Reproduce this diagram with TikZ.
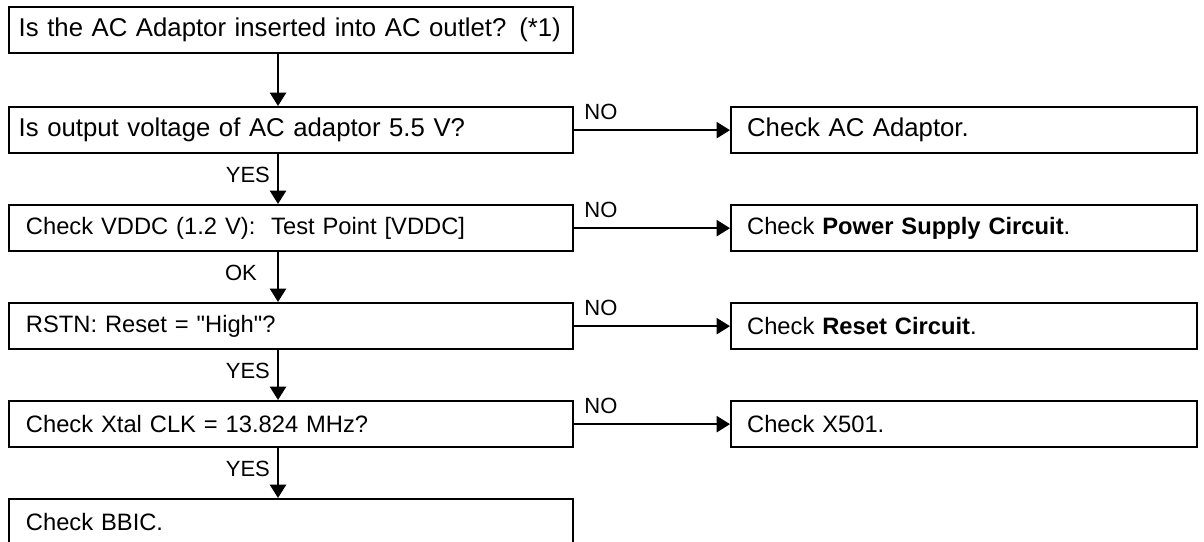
\documentclass[tikz,border=0pt]{standalone}
\usepackage{fontspec}
\setmainfont{Liberation Sans}[Ligatures=TeXOff]
\usetikzlibrary{arrows.meta,calc}
\begin{document}
\begin{tikzpicture}[x=0.75pt,y=-0.75pt,
  line width=1.7pt,
  boxbase/.style={draw, anchor=north west, minimum height=34.5pt, inner ysep=0pt, align=left},
  isbox/.style={boxbase, inner xsep=7.2pt, text width=408.6pt, font=\fontsize{19.3}{22}\selectfont},
  chbox/.style={boxbase, inner xsep=12.6pt, text width=397.8pt, font=\fontsize{17.8}{21}\selectfont},
  rbox/.style={boxbase, inner xsep=12pt, text width=325.5pt, font=\fontsize{17.8}{21}\selectfont},
  arr/.style={-{Triangle[width=12pt,length=10pt]}},
  lbl/.style={inner sep=0pt, font=\fontsize{16.5}{19}\selectfont}
]
\useasboundingbox (0,0) rectangle (1204,542);
% left column
\node[isbox] (b1) at (8,6) {Is the AC Adaptor inserted into AC outlet? (*1)};
\node[isbox] (b2) at (8,106) {Is output voltage of AC adaptor 5.5 V?};
\node[chbox] (b3) at (8,204) {Check VDDC (1.2 V):\ \ Test Point [VDDC]};
\node[chbox] (b4) at (8,302) {RSTN: Reset = "High"?};
\node[chbox] (b5) at (8,400) {Check Xtal CLK = 13.824 MHz?};
\node[chbox] (b6) at (8,498) {Check BBIC.};
% right column
\node[rbox, font=\fontsize{19.3}{22}\selectfont] (r2) at (730,106) {Check AC Adaptor.};
\node[rbox] (r3) at (730,204) {Check \textbf{Power Supply Circuit}.};
\node[rbox] (r4) at (730,302) {Check \textbf{Reset Circuit}.};
\node[rbox] (r5) at (730,400) {Check X501.};
% vertical arrows
\foreach \a/\b in {b1/b2,b2/b3,b3/b4,b4/b5,b5/b6}{
  \draw[arr] ($(\a.south west)+(270,0)$) coordinate (s-\a) -- ($(\b.north west)+(270,0)$);
}
\node[lbl, anchor=base east] at ($(s-b2)+(-7,28)$) {YES};
\node[lbl, anchor=base east] at ($(s-b3)+(-20,28)$) {OK};
\node[lbl, anchor=base east] at ($(s-b4)+(-7,28)$) {YES};
\node[lbl, anchor=base east] at ($(s-b5)+(-7,28)$) {YES};
% horizontal arrows
\foreach \a/\b in {b2/r2,b3/r3,b4/r4,b5/r5}{
  \draw[arr] (\a.east) -- (\b.west);
  \node[lbl, anchor=base west] at ($(\a.east)+(9,-11)$) {NO};
}
\end{tikzpicture}
\end{document}
